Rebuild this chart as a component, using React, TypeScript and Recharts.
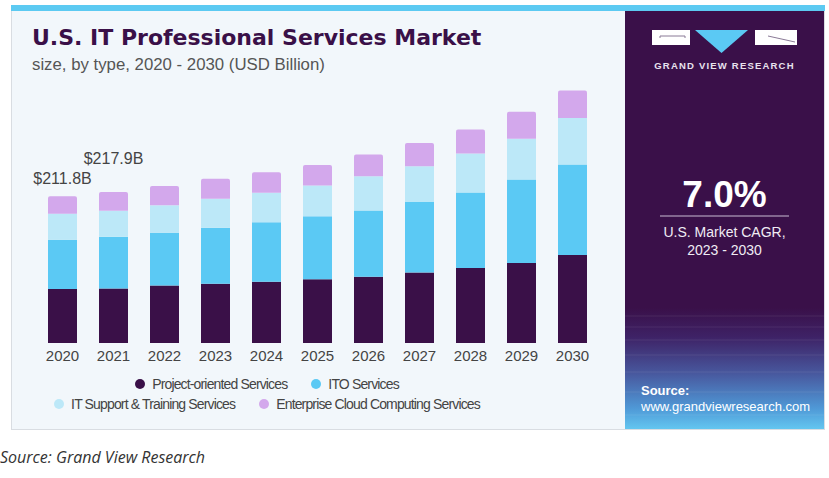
import React from "react";
import { BarChart, Bar, XAxis, YAxis, Legend, LabelList } from "recharts";

const years = ["2020", "2021", "2022", "2023", "2024", "2025", "2026", "2027", "2028", "2029", "2030"];
const projectOriented = [78.0, 78.8, 83.0, 85.4, 88.3, 92.2, 95.5, 101.7, 108.4, 115.6, 127.2];
const itoServices = [70.8, 74.4, 75.9, 81.1, 86.0, 90.7, 96.0, 101.8, 109.0, 120.5, 130.6];
const itSupport = [38.0, 37.6, 39.9, 41.8, 42.6, 44.6, 49.4, 51.8, 56.2, 59.0, 67.1];
const cloudComputing = [25.0, 27.1, 27.8, 28.8, 29.8, 29.7, 31.2, 33.6, 34.6, 38.9, 39.9];
const valueLabels = ["$211.8B", "$217.9B"];

const seriesNames = [
  "Project-oriented Services",
  "ITO Services",
  "IT Support & Training Services",
  "Enterprise Cloud Computing Services",
];
const COLORS = ["#3a1048", "#5bc9f4", "#bce8f8", "#d3a8ec"];

const data = years.map((y, i) => ({
  year: y,
  p: projectOriented[i],
  ito: itoServices[i],
  sup: itSupport[i],
  cloud: cloudComputing[i],
}));

const FONT = "'Liberation Sans', Arial, sans-serif";

const labelOffsets = [12, 28];

const TopLabel = (props: any) => {
  const { x, y, width, index } = props;
  if (index >= valueLabels.length) return null;
  return (
    <text
      x={x + width / 2}
      y={y - labelOffsets[index]}
      textAnchor="middle"
      fontFamily={FONT}
      fontSize={16}
      fill="#444"
    >
      {valueLabels[index]}
    </text>
  );
};

const LegendContent = () => {
  const item = (i: number) => (
    <span key={i} style={{ display: "inline-flex", alignItems: "center", margin: "0 12px" }}>
      <span
        style={{
          width: 10,
          height: 10,
          borderRadius: 5,
          background: COLORS[i],
          display: "inline-block",
          marginRight: 7,
        }}
      />
      <span>{seriesNames[i]}</span>
    </span>
  );
  return (
    <div
      style={{
        fontFamily: FONT,
        fontSize: 14,
        letterSpacing: -0.85,
        color: "#444",
        lineHeight: "20px",
        textAlign: "center",
      }}
    >
      <div>{[item(0), item(1)]}</div>
      <div>{[item(2), item(3)]}</div>
    </div>
  );
};

export default function App() {
  return (
    <div style={{ position: "absolute", left: 0, top: 0, width: 829, height: 478, background: "#fff", overflow: "hidden" }}>
      {/* card */}
      <div
        style={{
          position: "absolute",
          left: 11,
          top: 5,
          width: 814,
          height: 425,
          background: "#f2f7fb",
          border: "1px solid #d9dde2",
          boxSizing: "border-box",
        }}
      />
      <div style={{ position: "absolute", left: 11, top: 5, width: 814, height: 6, background: "#5ccaf2" }} />
      {/* title */}
      <div
        style={{
          position: "absolute",
          left: 32,
          top: 25,
          fontFamily: "'DejaVu Sans', sans-serif",
          fontWeight: 700,
          fontSize: 22,
          color: "#3a1048",
          whiteSpace: "nowrap",
        }}
      >
        U.S. IT Professional Services Market
      </div>
      <div
        style={{
          position: "absolute",
          left: 32,
          top: 55,
          fontFamily: FONT,
          fontSize: 16.8,
          color: "#555",
          whiteSpace: "nowrap",
        }}
      >
        size, by type, 2020 - 2030 (USD Billion)
      </div>

      {/* chart */}
      <div style={{ position: "absolute", left: 0, top: 0 }}>
        <BarChart
          width={829}
          height={478}
          data={data}
          margin={{ left: 37, right: 231, top: 66, bottom: 75 }}
        >
          <XAxis
            dataKey="year"
            axisLine={false}
            tickLine={false}
            height={20}
            interval={0}
            tickSize={5}
            tick={{ fontFamily: FONT, fontSize: 15, fill: "#444" }}
          />
          <YAxis hide domain={[0, 400]} />
          <Legend
            content={<LegendContent />}
            wrapperStyle={{ position: "absolute", left: 0, width: 534, top: 374 }}
          />
          <Bar dataKey="p" name={seriesNames[0]} stackId="a" fill={COLORS[0]} barSize={29} isAnimationActive={false} />
          <Bar dataKey="ito" name={seriesNames[1]} stackId="a" fill={COLORS[1]} barSize={29} isAnimationActive={false} />
          <Bar dataKey="sup" name={seriesNames[2]} stackId="a" fill={COLORS[2]} barSize={29} isAnimationActive={false} />
          <Bar
            dataKey="cloud"
            name={seriesNames[3]}
            stackId="a"
            fill={COLORS[3]}
            barSize={29}
            radius={[2, 2, 0, 0]}
            isAnimationActive={false}
          >
            <LabelList dataKey="cloud" content={<TopLabel />} />
          </Bar>
        </BarChart>
      </div>

      {/* right panel */}
      <div
        style={{
          position: "absolute",
          left: 625,
          top: 11,
          width: 199,
          height: 418,
          background:
            "linear-gradient(to bottom, #3a1049 0%, #3a1049 71%, #3e2266 78%, #485aa0 87%, #4f98d6 95%, #63c6f0 100%)",
          overflow: "hidden",
        }}
      >
        <svg width={199} height={418} style={{ position: "absolute", left: 0, top: 0 }}>
          {/* logo */}
          <rect x={27} y={19} width={38} height={15} fill="#fff" />
          <polyline points="35,27 35,25 60,25 60,27" fill="none" stroke="#8a7a96" strokeWidth={1} />
          <polygon points="70,19 123,19 96.5,42" fill="#5bc9f4" />
          <rect x={130} y={19} width={42} height={15} fill="#fff" />
          <line x1={143} y1={25} x2={170} y2={31} stroke="#8a7a96" strokeWidth={1} />
          <text x={99.5} y={58} textAnchor="middle" fontFamily={FONT} fontWeight={700} fontSize={9.5} letterSpacing={1.2} fill="#e8e2ee">
            GRAND VIEW RESEARCH
          </text>
          {/* CAGR */}
          <text x={99.5} y={196} textAnchor="middle" fontFamily={FONT} fontWeight={700} fontSize={37} fill="#fff">
            7.0%
          </text>
          <line x1={35} y1={205} x2={164} y2={205} stroke="#c9bcd4" strokeWidth={1} />
          <text x={99.5} y={226} textAnchor="middle" fontFamily={FONT} fontSize={14} fill="#f0ecf4">
            U.S. Market CAGR,
          </text>
          <text x={99.5} y={244} textAnchor="middle" fontFamily={FONT} fontSize={14} fill="#f0ecf4">
            2023 - 2030
          </text>
          {/* grid floor hint */}
          {[305, 316, 329, 344, 361, 381, 404].map((yy) => (
            <line key={yy} x1={0} y1={yy} x2={199} y2={yy} stroke="#ffffff" strokeOpacity={0.08} />
          ))}
          <text x={16} y={384} fontFamily={FONT} fontWeight={700} fontSize={13} fill="#fff">
            Source:
          </text>
          <text x={16} y={400} fontFamily={FONT} fontSize={13} fill="#fff">
            www.grandviewresearch.com
          </text>
        </svg>
      </div>

      {/* footer source */}
      <div
        style={{
          position: "absolute",
          left: 0,
          top: 446,
          fontFamily: "'Open Sans', sans-serif",
          fontStyle: "italic",
          fontSize: 16,
          color: "#333",
          whiteSpace: "nowrap",
        }}
      >
        Source: Grand View Research
      </div>
    </div>
  );
}
